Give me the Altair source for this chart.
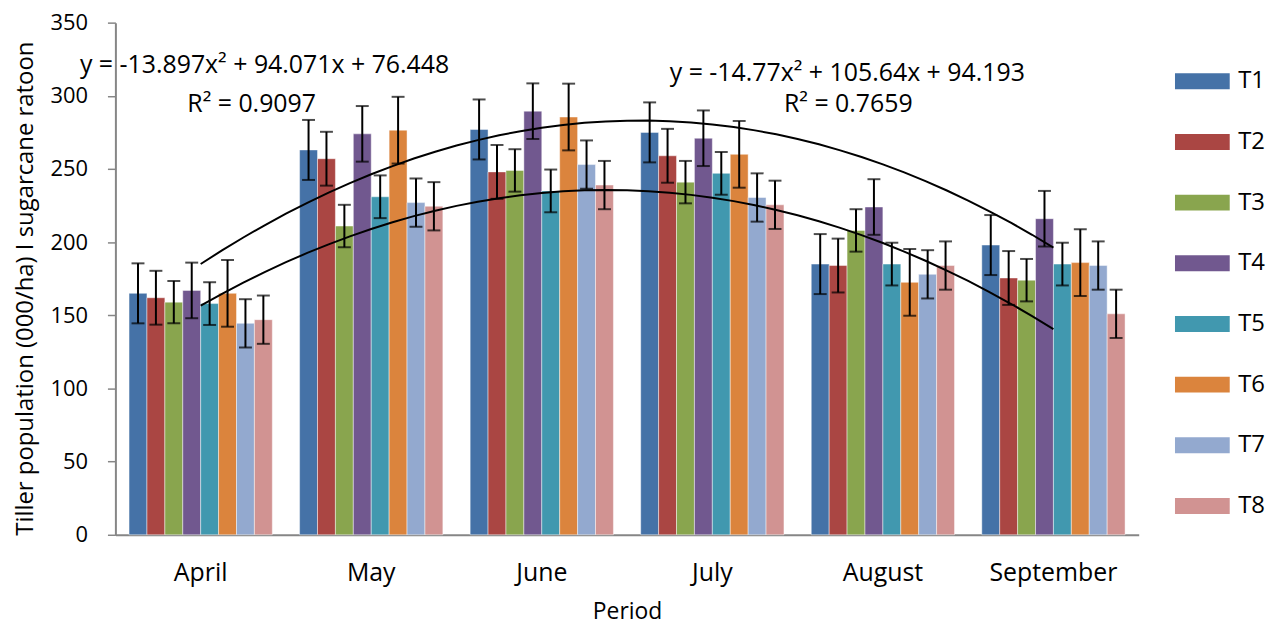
import altair as alt
import pandas as pd

months = ["April", "May", "June", "July", "August", "September"]
treatments = ["T1", "T2", "T3", "T4", "T5", "T6", "T7", "T8"]
t1 = [165, 263, 277, 275, 185, 198]
t2 = [162, 257, 248, 259, 184, 175.5]
t3 = [159, 211, 249, 241, 208, 174]
t4 = [167, 274, 289.5, 271, 224, 216]
t5 = [158, 231, 235, 247, 185, 185]
t6 = [165, 276.5, 285.5, 260, 172.5, 186]
t7 = [144.5, 227, 253, 230.5, 178, 184]
t8 = [147, 224.5, 239, 225.5, 184, 151]
errors = [20.5, 18.4, 14.5, 19, 14.6, 22.8, 16.5, 16.5]
colors = ["#4572A7", "#AA4643", "#89A54E", "#71588F", "#4198AF", "#DB843D", "#93A9CF", "#D19392"]

# printed trend-line coefficients [a, b, c] for y = a x^2 + b x + c
eq_lower = [-13.897, 94.071, 76.448]
eq_upper = [-14.77, 105.64, 94.193]
eq_texts = ["y = -13.897x² + 94.071x + 76.448", "R² = 0.9097",
            "y = -14.77x² + 105.64x + 94.193", "R² = 0.7659"]

series = [t1, t2, t3, t4, t5, t6, t7, t8]
rows = []
for ti, (name, vals) in enumerate(zip(treatments, series)):
    for mi, m in enumerate(months):
        rows.append({"month": m, "treatment": name, "value": vals[mi], "err": errors[ti]})
df = pd.DataFrame(rows)

FONT = "Open Sans"
W, H = 1029, 515

x_band = alt.X("month:N", sort=months,
               scale=alt.Scale(paddingInner=0.16, paddingOuter=0.08),
               axis=alt.Axis(title="Period", ticks=False, tickSize=0, labelAngle=0,
                             labelFontSize=25, labelPadding=26, labelColor="black",
                             domainColor="#868686", domainWidth=2,
                             titleFontSize=23, titleFontWeight="normal", titleColor="black",
                             titleY=77, titleBaseline="middle"))
x_off = alt.XOffset("treatment:N", sort=treatments,
                    scale=alt.Scale(paddingInner=0, paddingOuter=0))
y_scale = alt.Scale(domain=[0, 350], nice=False)

bars = alt.Chart(df).mark_bar(stroke="white", strokeWidth=1, strokeOpacity=0.45).encode(
    x=x_band,
    xOffset=x_off,
    y=alt.Y("value:Q", scale=y_scale,
            axis=alt.Axis(values=[0, 50, 100, 150, 200, 250, 300, 350], grid=False,
                          domainColor="#868686", domainWidth=2, tickColor="#868686",
                          tickSize=8, tickWidth=1.5, labelFontSize=22, labelPadding=20,
                          labelColor="black",
                          title="Tiller population (000/ha) I sugarcane ratoon",
                          titleFontSize=24, titleFontWeight="normal", titleColor="black",
                          titleAngle=-90, titleX=-90, titleY=267, titleLimit=800,
                          titleAlign="center", titleBaseline="middle")),
    color=alt.Color("treatment:N", sort=treatments,
                    scale=alt.Scale(domain=treatments, range=colors),
                    legend=alt.Legend(title=None, orient="none", legendX=1081, legendY=47,
                                      symbolType="M-3.44,-1H3.44V1H-3.44Z", symbolSize=256,
                                      symbolStrokeWidth=0, labelFontSize=24,
                                      labelOffset=24, rowPadding=37, padding=0,
                                      labelColor="black")),
)

err_base = alt.Chart(df).transform_calculate(
    lo="datum.value - datum.err", hi="datum.value + datum.err")

err_rule = err_base.mark_rule(color="black", strokeWidth=2).encode(
    x=alt.X("month:N", sort=months), xOffset=x_off,
    y=alt.Y("lo:Q", scale=y_scale), y2="hi:Q")
cap_lo = err_base.mark_tick(color="black", thickness=2, size=13).encode(
    x=alt.X("month:N", sort=months), xOffset=x_off, y=alt.Y("lo:Q", scale=y_scale))
cap_hi = err_base.mark_tick(color="black", thickness=2, size=13).encode(
    x=alt.X("month:N", sort=months), xOffset=x_off, y=alt.Y("hi:Q", scale=y_scale))


def curve(coef):
    expr = f"({coef[0]})*datum.x*datum.x + ({coef[1]})*datum.x + ({coef[2]})"
    return alt.Chart(alt.sequence(1, 6.01, 0.125, as_="x")).transform_calculate(
        yv=expr).mark_line(color="black", strokeWidth=2).encode(
        x=alt.X("x:Q", scale=alt.Scale(domain=[0.5, 6.5], nice=False, zero=False), axis=None),
        y=alt.Y("yv:Q", scale=y_scale))


ann_df = pd.DataFrame({"t": eq_texts})


def ann(i, px, py):
    return alt.Chart(ann_df).transform_filter(f"datum.t == '{eq_texts[i]}'").mark_text(
        fontSize=25, color="black", align="center", baseline="middle").encode(
        x=alt.value(px), y=alt.value(py), text="t:N")


bar_part = alt.layer(bars, err_rule, cap_lo, cap_hi)
chart = alt.layer(
    bar_part,
    curve(eq_lower), curve(eq_upper),
    ann(0, 150, 43), ann(1, 137, 82), ann(2, 736, 51), ann(3, 737, 82),
).resolve_scale(x="independent").properties(
    width=W, height=H,
    padding={"left": 108, "top": 13, "right": 128, "bottom": 90},
    autosize=alt.AutoSizeParams(type="none"),
).configure(font=FONT).configure_view(stroke=None)

chart.save("out.html", embed_options={"renderer": "svg", "actions": False})
